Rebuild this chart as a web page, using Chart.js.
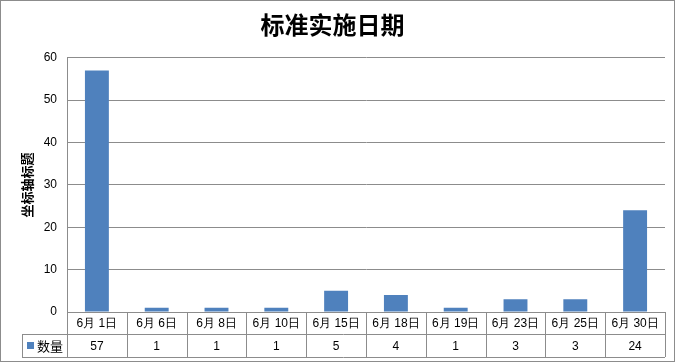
<!DOCTYPE html>
<html>
<head>
<meta charset="utf-8">
<script src="https://cdn.jsdelivr.net/npm/chart.js@4"></script>
<style>
  html, body { margin: 0; padding: 0; background: #fff; }
  #wrap { width: 675px; height: 363px; }
</style>
</head>
<body>
<div id="wrap"><canvas id="dateChart"></canvas></div>
<script>
const categories = ['6月 1日', '6月 6日', '6月 8日', '6月 10日', '6月 15日', '6月 18日', '6月 19日', '6月 23日', '6月 25日', '6月 30日'];
const counts = [57, 1, 1, 1, 5, 4, 1, 3, 3, 24];
const seriesName = '数量';
const yTicks = [0, 10, 20, 30, 40, 50, 60];

const barColor = '#4F81BD';
const lineColor = '#8c8c8c';
const font = 'Liberation Sans, Arial, sans-serif';

// draws the data table under the plot, the frame and the legend key
const tablePlugin = {
  id: 'dataTable',
  afterDraw(chart) {
    const ctx = chart.ctx;
    const x = chart.scales.x;
    const area = chart.chartArea;
    const row1Top = area.bottom;
    const row1Bottom = row1Top + 22;
    const row2Bottom = row1Bottom + 23;
    const keyLeft = 22;
    const n = categories.length;
    const step = (area.right - area.left) / n;

    ctx.save();
    ctx.strokeStyle = lineColor;
    ctx.lineWidth = 1;
    ctx.beginPath();
    // horizontal lines
    ctx.moveTo(area.left, row1Top + 0.5); ctx.lineTo(area.right, row1Top + 0.5);
    ctx.moveTo(keyLeft, row1Bottom + 0.5); ctx.lineTo(area.right, row1Bottom + 0.5);
    ctx.moveTo(keyLeft, row2Bottom + 0.5); ctx.lineTo(area.right, row2Bottom + 0.5);
    // vertical lines
    ctx.moveTo(keyLeft + 0.5, row1Bottom); ctx.lineTo(keyLeft + 0.5, row2Bottom);
    for (let i = 0; i <= n; i++) {
      const px = Math.round(area.left + i * step) + 0.5;
      ctx.moveTo(px, i === 0 ? area.top : row1Top);
      ctx.lineTo(px, row2Bottom);
    }
    ctx.stroke();

    ctx.fillStyle = '#000';
    ctx.font = '12px ' + font;
    ctx.textAlign = 'center';
    ctx.textBaseline = 'middle';
    categories.forEach((c, i) => {
      const cx = x.getPixelForValue(i);
      ctx.fillText(c, cx, (row1Top + row1Bottom) / 2 + 1);
      ctx.fillText(String(counts[i]), cx, (row1Bottom + row2Bottom) / 2 + 1);
    });

    // legend key
    ctx.fillStyle = barColor;
    ctx.fillRect(keyLeft + 5, row1Bottom + 8, 7, 7);
    ctx.fillStyle = '#000';
    ctx.textAlign = 'left';
    ctx.font = '13px Noto Sans CJK SC, sans-serif';
    ctx.fillText(seriesName, keyLeft + 15, (row1Bottom + row2Bottom) / 2 + 1);

    // outer frame
    ctx.strokeStyle = lineColor;
    ctx.strokeRect(0.5, 0.5, chart.width - 1, chart.height - 2);
    ctx.restore();
  }
};

new Chart(document.getElementById('dateChart'), {
  type: 'bar',
  data: {
    labels: categories,
    datasets: [{
      label: seriesName,
      data: counts,
      backgroundColor: barColor,
      barPercentage: 0.4,
      categoryPercentage: 1
    }]
  },
  options: {
    responsive: true,
    maintainAspectRatio: false,
    animation: false,
    layout: { padding: { left: 0, right: 10, top: 0, bottom: 51 } },
    plugins: {
      legend: { display: false },
      tooltip: { enabled: false },
      title: {
        display: true,
        text: '标准实施日期',
        color: '#000',
        font: { family: 'Noto Sans CJK SC', size: 24, weight: '600' },
        padding: { top: 10, bottom: 19 }
      }
    },
    scales: {
      x: {
        ticks: { display: false },
        grid: { display: false, drawTicks: false },
        border: { display: false }
      },
      y: {
        min: 0,
        max: 60,
        afterBuildTicks(scale) { scale.ticks = yTicks.map(v => ({ value: v })); },
        afterFit(scale) { scale.width = 67; },
        ticks: { color: '#000', font: { family: font, size: 12 }, padding: 10 },
        grid: { color: lineColor, drawTicks: false },
        border: { display: true, color: lineColor },
        title: {
          display: true,
          text: '坐标轴标题',
          color: '#000',
          font: { family: 'Noto Sans CJK SC', size: 13, weight: 'bold' },
          padding: { top: 19, bottom: 0 }
        }
      }
    }
  },
  plugins: [tablePlugin]
});
</script>
</body>
</html>
